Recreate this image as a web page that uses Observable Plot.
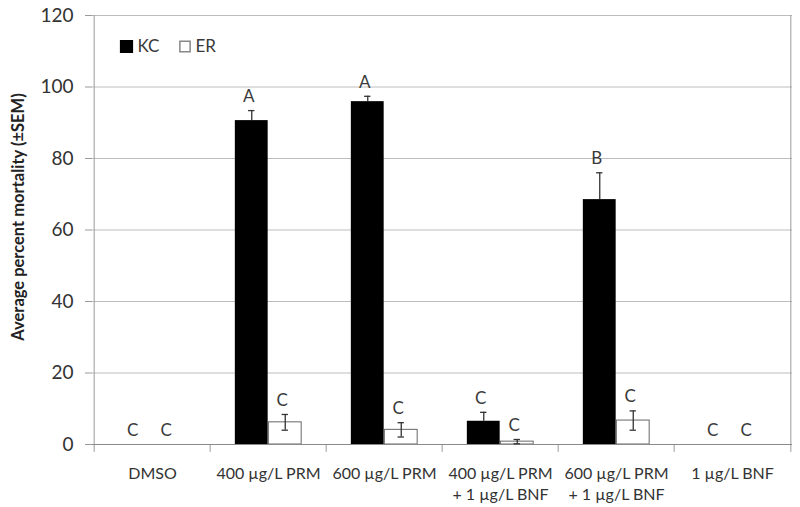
<!DOCTYPE html>
<html>
<head>
<meta charset="utf-8">
<script src="https://cdn.jsdelivr.net/npm/d3@7"></script>
<script src="https://cdn.jsdelivr.net/npm/@observablehq/plot@0.6"></script>
<style>
  html, body { margin: 0; padding: 0; background: #fff; }
  #chart svg { display: block; }
</style>
</head>
<body>
<div id="chart"></div>
<script>
// ---- data ----
const categories = ["DMSO", "400 µg/L PRM", "600 µg/L PRM", "400 µg/L PRM\n+ 1 µg/L BNF", "600 µg/L PRM\n+ 1 µg/L BNF", "1 µg/L BNF"];
const kcMean = [0, 90.6, 95.9, 6.5, 68.5, 0];
const kcSem  = [0, 2.8, 1.5, 2.5, 7.5, 0];
const erMean = [0, 6.2, 4.1, 0.8, 6.7, 0];
const erSem  = [0, 2.2, 2.0, 0.6, 2.7, 0];
const kcLetters = ["C", "A", "A", "C", "B", "C"];
const erLetters = ["C", "C", "C", "C", "C", "C"];
const yTicks = [0, 20, 40, 60, 80, 100, 120];
const seriesNames = ["KC", "ER"];
const yLabel = "Average percent mortality (±SEM)";

// ---- build table ----
const rows = [];
categories.forEach((c, i) => {
  rows.push({cat: c, series: "KC", mean: kcMean[i], sem: kcSem[i], letter: kcLetters[i]});
  rows.push({cat: c, series: "ER", mean: erMean[i], sem: erSem[i], letter: erLetters[i]});
});
const kc = rows.filter(d => d.series === "KC");
const er = rows.filter(d => d.series === "ER");

// ---- layout ----
const W = 800, H = 507, mL = 92, mR = 8, mT = 15, mB = 63;
const bw = (W - mL - mR) / categories.length;   // band width
const barW = 33.5;
const off = barW / 2;          // bar center offset from band center
const capHalf = 3.5;
const font = "Lato, 'Open Sans', sans-serif";
const txt = "#3a3a3a";

const capInsets = (sign) => ({
  insetLeft: bw / 2 + sign * off - capHalf,
  insetRight: bw / 2 - sign * off - capHalf
});

const chart = Plot.plot({
  width: W, height: H,
  marginLeft: mL, marginRight: mR, marginTop: mT, marginBottom: mB,
  style: {fontFamily: font, color: txt, background: "#fff"},
  x: {domain: categories, padding: 0, label: null},
  y: {domain: [0, 120], label: null},
  marks: [
    Plot.gridY(yTicks, {stroke: "#bdbdbd", strokeOpacity: 1}),
    // left axis line & right border
    Plot.ruleX([categories[0]], {x: d => d, y1: 0, y2: 120, dx: -bw / 2, stroke: "#9a9a9a"}),
    Plot.ruleX([categories[categories.length - 1]], {x: d => d, y1: 0, y2: 120, dx: bw / 2, stroke: "#9a9a9a"}),
    // category boundary ticks
    Plot.ruleX(categories, {x: d => d, y1: 0, y2: -2.2, dx: -bw / 2, stroke: "#9a9a9a"}),
    Plot.ruleX([categories[categories.length - 1]], {x: d => d, y1: 0, y2: -2.2, dx: bw / 2, stroke: "#9a9a9a"}),
    // bars
    Plot.barY(kc, {x: "cat", y: "mean", fill: "#000", insetLeft: bw / 2 - barW, insetRight: bw / 2}),
    Plot.barY(er, {x: "cat", y: "mean", fill: "#fff", stroke: "#666", strokeWidth: 1, insetLeft: bw / 2, insetRight: bw / 2 - barW}),
    Plot.ruleY([0], {stroke: "#8a8a8a"}),
    // error bars
    Plot.ruleX(kc.filter(d => d.sem > 0), {x: "cat", y1: "mean", y2: d => d.mean + d.sem, dx: -off, stroke: "#333", strokeWidth: 1.3}),
    Plot.tickY(kc.filter(d => d.sem > 0), {x: "cat", y: d => d.mean + d.sem, stroke: "#333", strokeWidth: 1.3, ...capInsets(-1)}),
    Plot.ruleX(er.filter(d => d.sem > 0), {x: "cat", y1: d => d.mean - d.sem, y2: d => d.mean + d.sem, dx: off, stroke: "#333", strokeWidth: 1.3}),
    Plot.tickY(er.filter(d => d.sem > 0), {x: "cat", y: d => d.mean + d.sem, stroke: "#333", strokeWidth: 1.3, ...capInsets(1)}),
    Plot.tickY(er.filter(d => d.sem > 0), {x: "cat", y: d => Math.max(0, d.mean - d.sem), stroke: "#333", strokeWidth: 1.3, ...capInsets(1)}),
    // significance letters
    Plot.text(kc, {x: "cat", y: d => d.mean + d.sem, text: "letter", dx: -off - 3, dy: -14, fontSize: 17, fill: txt}),
    Plot.text(er, {x: "cat", y: d => d.mean + d.sem, text: "letter", dx: off - 3, dy: -14, fontSize: 17, fill: txt}),
    // axes
    Plot.axisY(yTicks, {tickSize: 7, tickPadding: 12, fontSize: 19, stroke: "#9a9a9a", fill: "#333", label: null}),
    Plot.axisX({tickSize: 0, tickPadding: 19, fontSize: 16, lineHeight: 1.35, fill: "#333", label: null}),
    // y label
    Plot.text([yLabel], {text: d => d, frameAnchor: "left", textAnchor: "middle", lineAnchor: "middle", rotate: -90, dx: -74, dy: -13, fontSize: 16.5, fontWeight: "bold", fill: "#222"}),
    // legend
    Plot.dot([seriesNames[0]], {frameAnchor: "top-left", dx: 34, dy: 31, symbol: "square", r: 6.6, fill: "#000", stroke: "#000"}),
    Plot.text([seriesNames[0]], {text: d => d, frameAnchor: "top-left", dx: 45, dy: 31, textAnchor: "start", lineAnchor: "middle", fontSize: 17, fill: txt}),
    Plot.dot([seriesNames[1]], {frameAnchor: "top-left", dx: 92.5, dy: 31, symbol: "square", r: 5.8, fill: "#fff", stroke: "#888"}),
    Plot.text([seriesNames[1]], {text: d => d, frameAnchor: "top-left", dx: 103, dy: 31, textAnchor: "start", lineAnchor: "middle", fontSize: 17, fill: txt})
  ]
});
document.getElementById("chart").appendChild(chart);
</script>
</body>
</html>
